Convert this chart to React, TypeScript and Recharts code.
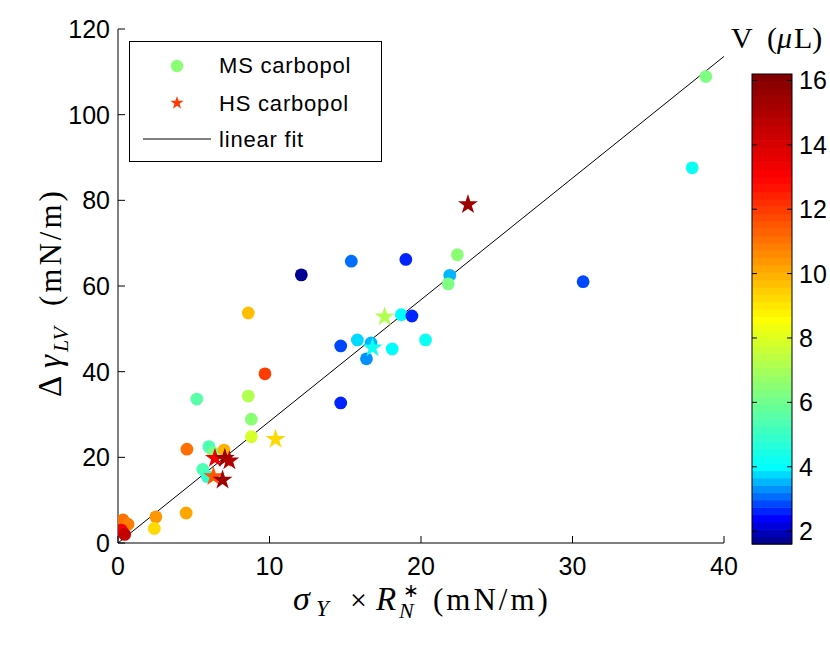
import React from 'react';
import { ScatterChart, Scatter, XAxis, YAxis, ReferenceLine, Legend } from 'recharts';

// ---- data ----
const msX = [38.8, 37.9, 30.7, 22.4, 21.9, 21.8, 19.0, 15.4, 12.1, 8.6, 18.7, 19.4, 15.8, 14.7, 16.7, 16.4, 18.1, 20.3, 14.7, 9.7, 8.6, 5.2, 8.8, 8.8, 4.55, 6.0, 6.3, 7.0, 5.6, 5.9, 2.5, 4.5, 2.4, 0.33, 0.66, 0.22, 0.44];
const msY = [108.9, 87.6, 61.0, 67.3, 62.5, 60.5, 66.2, 65.8, 62.6, 53.7, 53.3, 53.0, 47.4, 46.0, 46.7, 43.0, 45.3, 47.4, 32.7, 39.5, 34.3, 33.6, 28.9, 24.8, 21.9, 22.5, 21.0, 21.7, 17.2, 15.5, 6.1, 7.0, 3.4, 5.4, 4.4, 3.0, 2.0];
const msV = [6.3, 4.2, 2.9, 6.5, 3.5, 6.3, 2.7, 3.0, 1.8, 9.8, 4.0, 2.7, 3.8, 2.8, 3.5, 3.3, 3.9, 4.2, 2.6, 12.0, 7.3, 5.5, 6.6, 7.8, 11.0, 5.4, 6.3, 10.0, 5.3, 5.0, 10.3, 10.2, 9.3, 11.0, 10.8, 13.3, 14.5];

const hsX = [23.1, 17.6, 16.8, 10.4, 6.4, 7.05, 7.35, 6.3, 6.9];
const hsY = [79.0, 52.8, 45.6, 24.2, 19.8, 19.8, 19.2, 15.5, 14.7];
const hsV = [15.5, 7.2, 4.3, 9.3, 13.3, 15.6, 15.0, 11.5, 15.5];

const xTicks = [0, 10, 20, 30, 40];
const yTicks = [0, 20, 40, 60, 80, 100, 120];
const cbTicks = [2, 4, 6, 8, 10, 12, 14, 16];
const cMin = 1.6;
const cMax = 16.2;
const fitSlope = 2.84;
const fitX = [0, 40];

// colormap anchors (value -> rgb)
const cmapV = [1.6, 2.4, 4.0, 8.6, 13.0, 16.2];
const cmapR = [0, 0, 0, 1, 1, 0.5];
const cmapG = [0, 0, 1, 1, 0, 0];
const cmapB = [0.5, 1, 1, 0, 0, 0];

const msData = msX.map((x, i) => ({ x, y: msY[i], v: msV[i] }));
const hsData = hsX.map((x, i) => ({ x, y: hsY[i], v: hsV[i] }));

const NLEV = 64;
function cmapAt(v: number) {
  const vv = Math.max(cMin, Math.min(cMax, v));
  let k = 0;
  while (k < cmapV.length - 2 && vv > cmapV[k + 1]) k++;
  const t = (vv - cmapV[k]) / (cmapV[k + 1] - cmapV[k]);
  const r = cmapR[k] + t * (cmapR[k + 1] - cmapR[k]);
  const g = cmapG[k] + t * (cmapG[k + 1] - cmapG[k]);
  const b = cmapB[k] + t * (cmapB[k + 1] - cmapB[k]);
  return `rgb(${Math.round(r * 255)},${Math.round(g * 255)},${Math.round(b * 255)})`;
}
function levelColor(i: number) {
  return cmapAt(cMin + ((i + 0.5) / NLEV) * (cMax - cMin));
}
function colorOf(v: number) {
  const t = Math.max(0, Math.min(1, (v - cMin) / (cMax - cMin)));
  return levelColor(Math.min(NLEV - 1, Math.floor(t * NLEV)));
}

function starPath(cx: number, cy: number, R: number) {
  const r = R * 0.382;
  let d = '';
  for (let k = 0; k < 10; k++) {
    const rad = k % 2 === 0 ? R : r;
    const a = -Math.PI / 2 + (k * Math.PI) / 5;
    d += (k === 0 ? 'M' : 'L') + (cx + rad * Math.cos(a)).toFixed(2) + ',' + (cy + rad * Math.sin(a)).toFixed(2);
  }
  return d + 'Z';
}

const CircleShape = (p: any) => <circle cx={p.cx} cy={p.cy} r={6.4} fill={colorOf(p.payload.v)} />;
const StarShape = (p: any) => <path d={starPath(p.cx, p.cy, 10.5)} fill={colorOf(p.payload.v)} />;

const SANS = '"Liberation Sans", Arial, Helvetica, sans-serif';
const SERIF = '"Liberation Serif", "Times New Roman", serif';
const TFS = 25;
const LFS = 22;
const LS = 0.8;

const XTickB = (p: any) => (
  <g>
    <line x1={p.x} x2={p.x} y1={p.y} y2={p.y - 7} stroke="#000" strokeWidth={1} />
    <text x={p.x} y={p.y + 32} textAnchor="middle" fontFamily={SANS} fontSize={TFS} fill="#000">{p.payload.value}</text>
  </g>
);
const XTickT = (p: any) => (
  <line x1={p.x} x2={p.x} y1={p.y} y2={p.y + 7} stroke="#000" strokeWidth={1} />
);
const YTickL = (p: any) => (
  <g>
    <line x1={p.x} x2={p.x + 7} y1={p.y} y2={p.y} stroke="#000" strokeWidth={1} />
    <text x={p.x - 8} y={p.y + 9} textAnchor="end" fontFamily={SANS} fontSize={TFS} fill="#000">{p.payload.value}</text>
  </g>
);
const YTickR = (p: any) => (
  <line x1={p.x} x2={p.x - 7} y1={p.y} y2={p.y} stroke="#000" strokeWidth={1} />
);

const XLabel = (p: any) => {
  const vb = p.viewBox || { x: 118, y: 543, width: 606 };
  const cx = vb.x + vb.width / 2;
  const y = vb.y + 67;
  return (
    <g fontFamily={SERIF} fill="#000">
      <text x={cx - 128} y={y} fontSize={34} fontStyle="italic">σ</text>
      <text x={cx - 105} y={y + 6} fontSize={23} fontStyle="italic">Y</text>
      <text x={cx - 71} y={y} fontSize={30}>×</text>
      <text x={cx - 45} y={y} fontSize={33} fontStyle="italic">R</text>
      <text x={cx - 18} y={y - 13} fontSize={19}>∗</text>
      <text x={cx - 22} y={y + 8} fontSize={22} fontStyle="italic">N</text>
      <text x={cx + 12} y={y} fontSize={31} letterSpacing={3}>(mN/m)</text>
    </g>
  );
};

const YLabel = (p: any) => {
  const vb = p.viewBox || { x: 0, y: 29, width: 118, height: 514 };
  const cy = vb.y + vb.height / 2 + 6;
  const x = 61;
  return (
    <g transform={`rotate(-90 ${x} ${cy})`} fontFamily={SERIF} fill="#000">
      <text x={x - 105} y={cy} fontSize={33}>Δ</text>
      <text x={x - 76} y={cy} fontSize={33} fontStyle="italic">γ</text>
      <text x={x - 60} y={cy + 7} fontSize={22} fontStyle="italic">LV</text>
      <text x={x - 14} y={cy} fontSize={31} letterSpacing={3}>(mN/m)</text>
    </g>
  );
};

const LegendBox = () => (
  <svg width={253} height={121} style={{ display: 'block' }}>
    <rect x={0.5} y={0.5} width={252} height={120} fill="#fff" stroke="#000" strokeWidth={1} />
    <circle cx={48} cy={25} r={6.2} fill={colorOf(6.6)} />
    <text x={90} y={32} fontFamily={SANS} fontSize={LFS} letterSpacing={LS} fill="#000">MS carbopol</text>
    <path d={starPath(48, 62, 7)} fill={colorOf(12.0)} />
    <text x={90} y={70} fontFamily={SANS} fontSize={LFS} letterSpacing={LS} fill="#000">HS carbopol</text>
    <line x1={14} x2={82} y1={98} y2={98} stroke="#000" strokeWidth={1} />
    <text x={90} y={106} fontFamily={SANS} fontSize={LFS} letterSpacing={LS} fill="#000">linear fit</text>
  </svg>
);

// colorbar overlay
const CB = { x: 752, w: 40, top: 74, bottom: 544 };
const cbY = (v: number) => CB.bottom - ((v - cMin) / (cMax - cMin)) * (CB.bottom - CB.top);
const levels = Array.from({ length: NLEV }, (_, i) => i);

const ColorBar = () => (
  <svg width={830} height={649} style={{ position: 'absolute', left: 0, top: 0, pointerEvents: 'none' }}>
    {levels.map((i) => {
      const h = (CB.bottom - CB.top) / NLEV;
      return (
        <rect key={i} x={CB.x} y={CB.bottom - (i + 1) * h} width={CB.w} height={h + 0.6} fill={levelColor(i)} />
      );
    })}
    <rect x={CB.x} y={CB.top} width={CB.w} height={CB.bottom - CB.top} fill="none" stroke="#000" strokeWidth={1} />
    {cbTicks.map((t) => (
      <g key={t}>
        <line x1={CB.x} x2={CB.x + 5} y1={cbY(t)} y2={cbY(t)} stroke="#000" />
        <line x1={CB.x + CB.w - 5} x2={CB.x + CB.w} y1={cbY(t)} y2={cbY(t)} stroke="#000" />
        <text x={CB.x + CB.w + 7} y={cbY(t) + 9} fontFamily={SANS} fontSize={TFS} fill="#000">{t}</text>
      </g>
    ))}
    <g fontFamily={SERIF} fill="#000">
      <text x={731} y={48} fontSize={30}>V</text>
      <text x={767} y={48} fontSize={30}>(</text>
      <text x={777} y={48} fontSize={30} fontStyle="italic">μ</text>
      <text x={794} y={48} fontSize={30}>L)</text>
    </g>
  </svg>
);

export default function App() {
  return (
    <div style={{ position: 'absolute', left: 0, top: 0, width: 830, height: 649, background: '#fff' }}>
      <ScatterChart width={830} height={649} margin={{ top: 29, right: 106, bottom: 0, left: 0 }}>
        <XAxis
          xAxisId="b"
          dataKey="x"
          type="number"
          domain={[0, 40]}
          ticks={xTicks}
          orientation="bottom"
          height={106}
          tickSize={0}
          tickMargin={0}
          tick={<XTickB />}
          axisLine={{ stroke: '#000', strokeWidth: 1 }}
          label={<XLabel />}
          allowDataOverflow
        />
        <XAxis
          xAxisId="t"
          dataKey="x"
          type="number"
          domain={[0, 40]}
          ticks={xTicks}
          orientation="top"
          height={0}
          tickSize={0}
          tickMargin={0}
          tick={<XTickT />}
          axisLine={{ stroke: '#000', strokeWidth: 1 }}
          allowDataOverflow
        />
        <YAxis
          yAxisId="l"
          dataKey="y"
          type="number"
          domain={[0, 120]}
          ticks={yTicks}
          orientation="left"
          width={118}
          tickSize={0}
          tickMargin={0}
          tick={<YTickL />}
          axisLine={{ stroke: '#000', strokeWidth: 1 }}
          label={<YLabel />}
          allowDataOverflow
        />
        <YAxis
          yAxisId="r"
          dataKey="y"
          type="number"
          domain={[0, 120]}
          ticks={yTicks}
          orientation="right"
          width={0}
          tickSize={0}
          tickMargin={0}
          tick={<YTickR />}
          axisLine={{ stroke: '#000', strokeWidth: 1 }}
          allowDataOverflow
        />
        <Scatter xAxisId="t" yAxisId="r" data={[]} isAnimationActive={false} />
        <Scatter xAxisId="b" yAxisId="l" data={msData} shape={<CircleShape />} isAnimationActive={false} />
        <Scatter xAxisId="b" yAxisId="l" data={hsData} shape={<StarShape />} isAnimationActive={false} />
        <ReferenceLine
          xAxisId="b"
          yAxisId="l"
          segment={[
            { x: fitX[0], y: fitSlope * fitX[0] },
            { x: fitX[1], y: fitSlope * fitX[1] },
          ]}
          stroke="#000"
          strokeWidth={1}
          ifOverflow="visible"
        />
        <Legend
          layout="horizontal"
          verticalAlign="middle"
          align="center"
          content={<LegendBox />}
          wrapperStyle={{ position: 'absolute', left: 129, top: 41, width: 253, height: 121 }}
        />
      </ScatterChart>
      <ColorBar />
    </div>
  );
}
